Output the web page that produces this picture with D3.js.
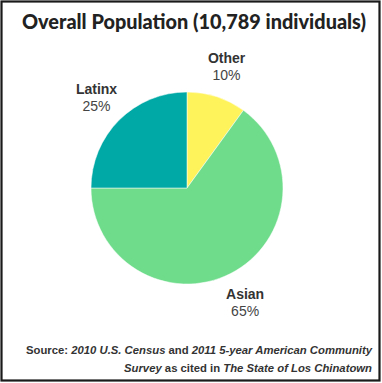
<!DOCTYPE html>
<html><head><meta charset="utf-8">
<script src="https://cdn.jsdelivr.net/npm/d3@7"></script>
<style>
html,body{margin:0;padding:0;background:#fff;}
svg{display:block;}
</style></head>
<body>
<svg id="chart" width="382" height="383"></svg>
<script>
const categories = ["Other", "Asian", "Latinx"];
const values = [10, 65, 25];
const colors = ["#FFF35C", "#6FDC8C", "#00A9A5"];
const title = "Overall Population (10,789 individuals)";

const svg = d3.select("#chart");
const W = 382, H = 383;

svg.append("rect").attr("x", 1.5).attr("y", 1.5).attr("width", W - 4).attr("height", H - 4)
  .attr("fill", "#fff").attr("stroke", "#1a1a1a").attr("stroke-width", 2.2);

svg.append("text").attr("x", 194).attr("y", 29).attr("text-anchor", "middle")
  .attr("font-family", "Lato, sans-serif").attr("font-weight", 900)
  .attr("font-size", 20).attr("fill", "#222")
  .attr("textLength", 344).attr("lengthAdjust", "spacingAndGlyphs").text(title);

const cx = 187, cy = 188, r = 96;
const g = svg.append("g").attr("transform", `translate(${cx},${cy})`);
const pie = d3.pie().sort(null).value(d => d.v);
const data = pie(categories.map((c, i) => ({c, v: values[i], col: colors[i]})));
const arc = d3.arc().innerRadius(0).outerRadius(r);
const labelArc = d3.arc().innerRadius(128).outerRadius(128);

g.selectAll("path").data(data).join("path")
  .attr("d", arc).attr("fill", d => d.data.col)
  .attr("stroke", "#fff").attr("stroke-width", 0.5);

const lab = g.selectAll("g.lab").data(data).join("g").attr("class", "lab")
  .attr("transform", d => { const [x, y] = labelArc.centroid(d); return `translate(${x},${y})`; });
lab.append("text").attr("y", -3).attr("text-anchor", "middle")
  .attr("font-family", "'Liberation Sans', Arial, sans-serif").attr("font-weight", 700)
  .attr("font-size", 14).attr("fill", "#333").text(d => d.data.c);
lab.append("text").attr("y", 14).attr("text-anchor", "middle")
  .attr("font-family", "'Liberation Sans', Arial, sans-serif")
  .attr("font-size", 14).attr("fill", "#444").text(d => d.data.v + "%");

const src = svg.append("g").attr("font-family", "'Liberation Sans', Arial, sans-serif")
  .attr("font-size", 11.3).attr("font-weight", 700).attr("fill", "#333");
const l1 = src.append("text").attr("x", 372).attr("y", 354).attr("text-anchor", "end");
l1.append("tspan").text("Source: ");
l1.append("tspan").attr("font-style", "italic").text("2010 U.S. Census");
l1.append("tspan").text(" and ");
l1.append("tspan").attr("font-style", "italic").text("2011 5-year American Community");
const l2 = src.append("text").attr("x", 372).attr("y", 372).attr("text-anchor", "end");
l2.append("tspan").attr("font-style", "italic").text("Survey");
l2.append("tspan").text(" as cited in ");
l2.append("tspan").attr("font-style", "italic").text("The State of Los Chinatown");
</script>
</body></html>
